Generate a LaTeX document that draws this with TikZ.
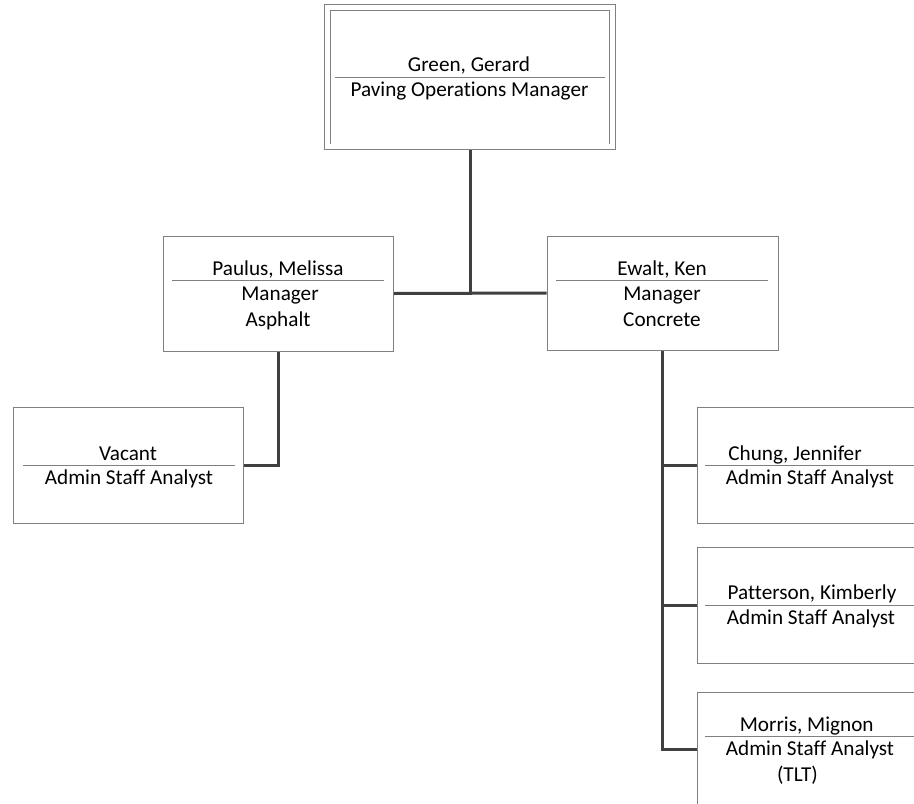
\documentclass[tikz,border=0pt]{standalone}
\usepackage{fontspec}
\setmainfont{Carlito}[Ligatures={NoCommon}]
\usetikzlibrary{backgrounds}
\definecolor{boxgray}{HTML}{808080}
\definecolor{conngray}{HTML}{404040}
\begin{document}
\begin{tikzpicture}[x=1pt,y=-1pt,
  box/.style={draw=boxgray, line width=1pt, fill=white, inner sep=0pt},
  topbox/.style={draw=boxgray, line width=0.9pt, double=white, double distance=4.6pt, fill=white, inner sep=0pt},
  sepline/.style={draw=boxgray, line width=1pt},
  conn/.style={draw=conngray, line width=3pt},
  lbl/.style={anchor=base, inner sep=0pt, font=\fontsize{21.2}{25}\selectfont, text=black}]
\useasboundingbox (0,0) rectangle (914,804);
\clip (0,0) rectangle (914,804);
% boxes
\node[topbox, minimum width=285pt, minimum height=139.4pt] (top) at (470,77) {};
\node[box, minimum width=230pt, minimum height=115pt] (paulus) at (278,293.5) {};
\node[box, minimum width=231pt, minimum height=114pt] (ewalt) at (662.5,293) {};
\node[box, minimum width=230pt, minimum height=116pt] (vacant) at (128,465) {};
\node[box, minimum width=230pt, minimum height=116pt] (chung) at (812,465) {};
\node[box, minimum width=230pt, minimum height=116pt] (patterson) at (812,605) {};
\node[box, minimum width=230pt, minimum height=142pt] (morris) at (812,763) {};
\coordinate (mj) at ([yshift=-58pt]morris.north west);
% connectors
\begin{scope}[on background layer]
\draw[conn] (top.south) -- (top.south |- paulus.east);
\draw[conn] (paulus.east) -- (ewalt.west);
\draw[conn] (paulus.south) |- (vacant.east);
\draw[conn] (ewalt.south) |- (mj);
\draw[conn] (ewalt.south |- chung.west) -- (chung.west);
\draw[conn] (ewalt.south |- patterson.west) -- (patterson.west);
\end{scope}
% separators
\draw[sepline] (335,77.3) -- (605,77.3);
\draw[sepline] (172,280.7) -- (384,280.7);
\draw[sepline] (556,280.7) -- (768,280.7);
\draw[sepline] (23,465.7) -- (235,465.7);
\draw[sepline] (705,465.7) -- (920,465.7);
\draw[sepline] (705,605.7) -- (920,605.7);
\draw[sepline] (705,736.7) -- (920,736.7);
% texts
\node[lbl] (t1) at (469,71.5) {Green, Gerard};
\node[lbl] (t2) at (469.5,96.5) {Paving Operations Manager};
\node[lbl] (t3) at (278,275) {Paulus, Melissa};
\node[lbl] (t4) at (280,300) {Manager};
\node[lbl] (t5) at (278,326) {Asphalt};
\node[lbl] (t6) at (662,275) {Ewalt, Ken};
\node[lbl] (t7) at (662,300) {Manager};
\node[lbl] (t8) at (662,326) {Concrete};
\node[lbl] (t9) at (128,460) {Vacant};
\node[lbl] (t10) at (129,484.5) {Admin Staff Analyst};
\node[lbl] (t11) at (795,460) {Chung, Jennifer};
\node[lbl] (t12) at (810,484.5) {Admin Staff Analyst};
\node[lbl] (t13) at (812,599.5) {Patterson, Kimberly};
\node[lbl] (t14) at (811,624.5) {Admin Staff Analyst};
\node[lbl] (t15) at (806.7,731) {Morris, Mignon};
\node[lbl] (t16) at (810,755) {Admin Staff Analyst};
\node[lbl] (t17) at (797.5,781) {(TLT)};
\end{tikzpicture}
\end{document}
